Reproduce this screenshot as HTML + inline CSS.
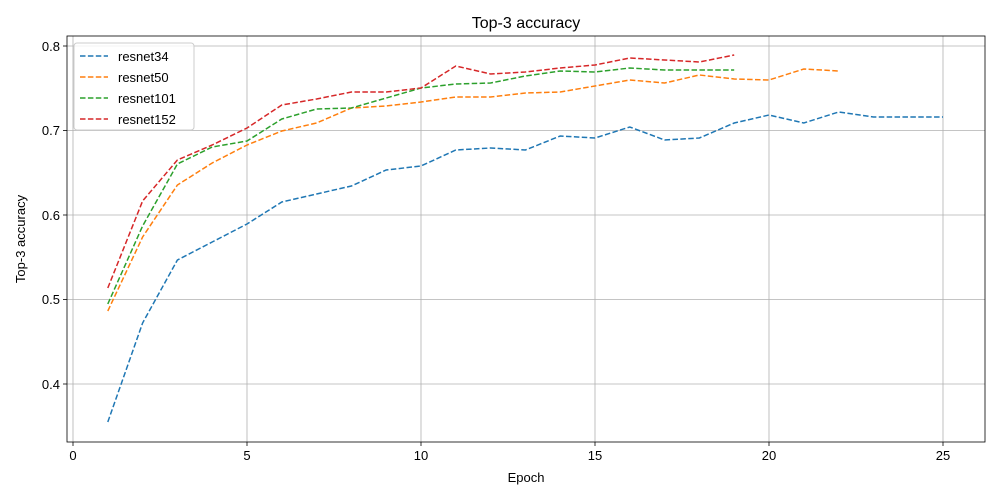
<!DOCTYPE html>
<html><head><meta charset="utf-8"><style>body{margin:0;background:#fff}svg{display:block;font-family:"Liberation Sans","DejaVu Sans",sans-serif}</style></head><body>
<svg width="1000" height="500" xmlns="http://www.w3.org/2000/svg">
<rect width="1000" height="500" fill="#fff"/>
<g stroke="#b0b0b0" stroke-width="0.8">
<line x1="73" y1="36" x2="73" y2="442"/><line x1="247" y1="36" x2="247" y2="442"/><line x1="421" y1="36" x2="421" y2="442"/><line x1="595" y1="36" x2="595" y2="442"/><line x1="769" y1="36" x2="769" y2="442"/><line x1="943" y1="36" x2="943" y2="442"/>
<line x1="67" y1="46" x2="985" y2="46"/><line x1="67" y1="130.5" x2="985" y2="130.5"/><line x1="67" y1="215" x2="985" y2="215"/><line x1="67" y1="299.5" x2="985" y2="299.5"/><line x1="67" y1="384" x2="985" y2="384"/>
</g>
<g fill="none" stroke-width="1.5" stroke-dasharray="5.5,2.4">
<polyline stroke="#1f77b4" points="107.8,422 142.6,323 177.4,260 212.2,242 247,224 281.8,202 316.6,194 351.4,186 386.2,170 421,166 455.8,150 490.6,148 525.4,150 560.2,136 595,138 629.8,127 664.6,140 699.4,138 734.2,123 769,115 803.8,123 838.6,112 873.4,117 908.2,117 943,117"/>
<polyline stroke="#ff7f0e" points="107.8,311 142.6,237 177.4,185 212.2,163 247,145 281.8,131 316.6,123 351.4,108 386.2,106 421,102 455.8,97 490.6,97 525.4,93 560.2,92 595,86 629.8,80 664.6,83 699.4,75 734.2,79 769,80 803.8,69 838.6,71"/>
<polyline stroke="#2ca02c" points="107.8,304 142.6,226 177.4,164 212.2,147 247,141 281.8,119 316.6,109 351.4,108 386.2,98 421,88 455.8,84 490.6,83 525.4,76 560.2,71 595,72 629.8,68 664.6,70 699.4,70 734.2,70"/>
<polyline stroke="#d62728" points="107.8,288 142.6,201 177.4,160 212.2,145 247,128 281.8,105 316.6,99 351.4,92 386.2,92 421,88 455.8,66 490.6,74 525.4,72 560.2,68 595,65 629.8,58 664.6,60 699.4,62 734.2,55"/>
</g>
<rect x="67" y="36" width="918" height="406" fill="none" stroke="#000" stroke-width="0.8"/>
<g stroke="#000" stroke-width="0.8">
<line x1="73" y1="442" x2="73" y2="446"/><line x1="247" y1="442" x2="247" y2="446"/><line x1="421" y1="442" x2="421" y2="446"/><line x1="595" y1="442" x2="595" y2="446"/><line x1="769" y1="442" x2="769" y2="446"/><line x1="943" y1="442" x2="943" y2="446"/>
<line x1="63" y1="46" x2="67" y2="46"/><line x1="63" y1="130.5" x2="67" y2="130.5"/><line x1="63" y1="215" x2="67" y2="215"/><line x1="63" y1="299.5" x2="67" y2="299.5"/><line x1="63" y1="384" x2="67" y2="384"/>
</g>
<g font-size="13" fill="#000" text-anchor="middle">
<text x="73" y="460">0</text><text x="247" y="460">5</text><text x="421" y="460">10</text><text x="595" y="460">15</text><text x="769" y="460">20</text><text x="943" y="460">25</text>
<text x="526" y="482">Epoch</text>
<text x="526" y="28" font-size="16">Top-3 accuracy</text>
</g>
<g font-size="13" text-anchor="end">
<text x="60" y="51">0.8</text><text x="60" y="135">0.7</text><text x="60" y="220">0.6</text><text x="60" y="304">0.5</text><text x="60" y="389">0.4</text>
</g>
<text transform="translate(25,239) rotate(-90)" font-size="13" text-anchor="middle">Top-3 accuracy</text>
<rect x="74" y="43" width="120" height="87" rx="3" fill="#fff" fill-opacity="0.8" stroke="#ccc"/>
<g stroke-width="1.5" stroke-dasharray="5.5,2.4">
<line x1="80" y1="56" x2="108" y2="56" stroke="#1f77b4"/><line x1="80" y1="77" x2="108" y2="77" stroke="#ff7f0e"/><line x1="80" y1="98" x2="108" y2="98" stroke="#2ca02c"/><line x1="80" y1="119" x2="108" y2="119" stroke="#d62728"/>
</g>
<g font-size="13"><text x="118" y="61">resnet34</text><text x="118" y="82">resnet50</text><text x="118" y="103">resnet101</text><text x="118" y="124">resnet152</text></g>
</svg>
</body></html>
